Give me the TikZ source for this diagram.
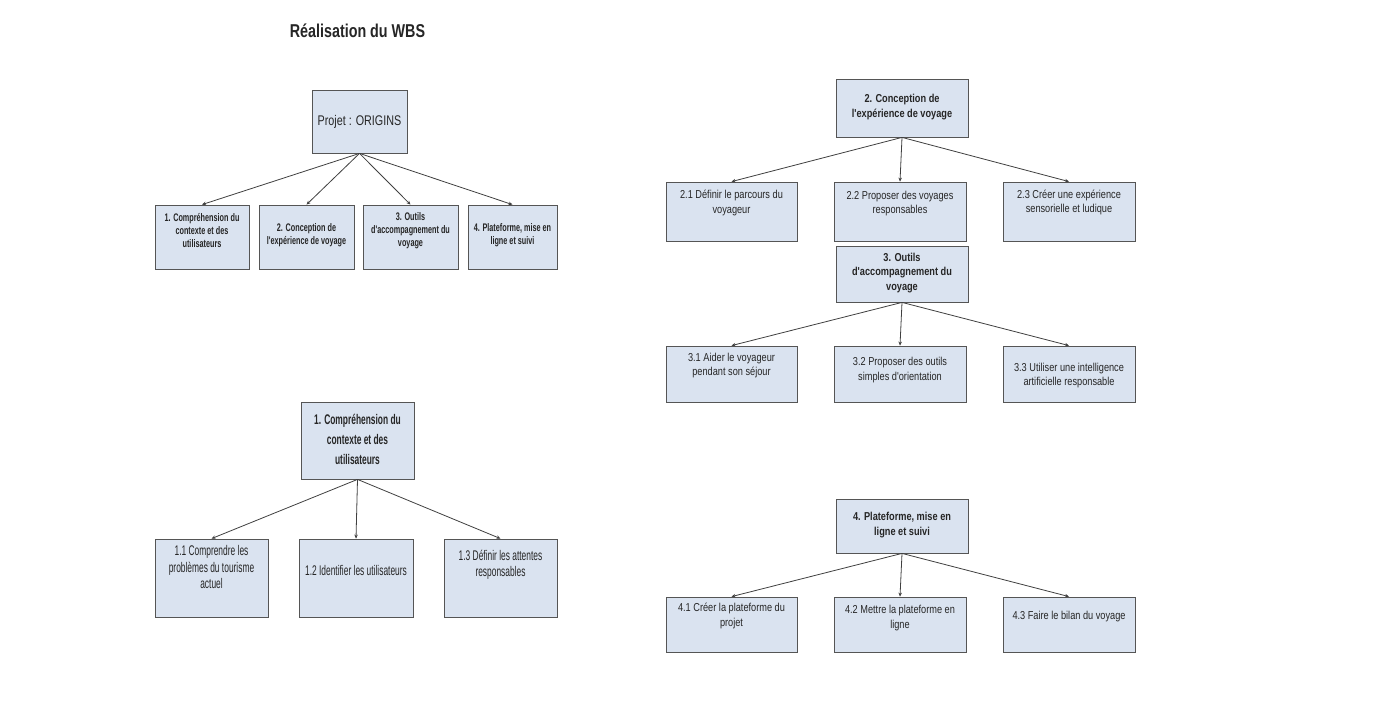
\documentclass[tikz,border=0pt]{standalone}
\usepackage{fontspec}
\setmainfont{Liberation Sans}
\newfontfamily\fR[FakeStretch=0.8]{Liberation Sans}
\newfontfamily\fT[FakeStretch=0.77]{Liberation Sans}
\newfontfamily\fS[FakeStretch=0.66]{Liberation Sans}
\newfontfamily\fB[FakeStretch=0.6]{Liberation Sans}
\usetikzlibrary{arrows.meta}
\definecolor{boxfill}{HTML}{DAE3F0}
\definecolor{boxline}{HTML}{555555}
\definecolor{linkc}{HTML}{404040}
\tikzset{
  box/.style={draw=boxline, fill=boxfill, line width=0.8pt, inner sep=0pt, rectangle},
  txt/.style={align=center, inner sep=0pt, text=black!85},
  link/.style={draw=linkc, line width=0.8pt, -{Stealth[length=4pt,width=3.5pt]}},
  rtxt/.style={txt, font={\fR\fontsize{11.5}{14.5}\selectfont}},
  rbold/.style={txt, font={\fR\bfseries\fontsize{11.5}{14.5}\selectfont}},
  stxt/.style={txt, font={\fS\bfseries\fontsize{11}{13}\selectfont}},
  btxt/.style={txt, font={\fB\fontsize{14}{16.5}\selectfont}},
  bbold/.style={txt, font={\fB\bfseries\fontsize{14}{20}\selectfont}},
}
\begin{document}
\begin{tikzpicture}[x=1pt,y=-1pt]
\useasboundingbox (0,0) rectangle (1386,712);
\fill[white] (0,0) rectangle (1386,712);

% title
\node[txt, font={\fT\bfseries\fontsize{18.6}{20}\selectfont}] (title) at (357.5,31) {Réalisation du WBS};

% ---------- top-left tree ----------
\node[box, minimum width=95, minimum height=63] (P) at (359.5,121.5) {};
\node[txt, font={\fT\fontsize{14}{16}\selectfont}] (tP) at (359.5,122) {Projet : ORIGINS};
\node[box, minimum width=94, minimum height=64] (c1) at (202,237) {};
\node[box, minimum width=95, minimum height=64] (c2) at (306.5,237) {};
\node[box, minimum width=95, minimum height=64] (c3) at (410.5,237) {};
\node[box, minimum width=89, minimum height=64] (c4) at (512.5,237) {};
\node[stxt] (tc1) at (202,231) {1. Compréhension du\\contexte et des\\utilisateurs};
\node[stxt] (tc2) at (306.5,235) {2. Conception de\\l'expérience de voyage};
\node[stxt] (tc3) at (410.5,231) {3. Outils\\d'accompagnement du\\voyage};
\node[stxt] (tc4) at (512.5,235) {4. Plateforme, mise en\\ligne et suivi};
\foreach \c in {c1,c2,c3,c4} \draw[link] (P.south) -- (\c.north);

% ---------- bottom-left tree ----------
\node[box, minimum width=113, minimum height=77] (R1) at (357.5,440.5) {};
\node[bbold] (tR1) at (357.5,439) {1. Compréhension du\\contexte et des\\utilisateurs};
\node[box, minimum width=113, minimum height=78] (s11) at (211.5,578) {};
\node[box, minimum width=114, minimum height=78] (s12) at (356,578) {};
\node[box, minimum width=113, minimum height=78] (s13) at (500.5,578) {};
\node[btxt] (t11) at (211.5,567) {1.1 Comprendre les\\problèmes du tourisme\\actuel};
\node[btxt] (t12) at (356,570) {1.2 Identifier les utilisateurs};
\node[btxt] (t13) at (500.5,565) {1.3 Définir les attentes\\responsables};
\foreach \c in {s11,s12,s13} \draw[link] (R1.south) -- (\c.north);

% ---------- right tree 2 ----------
\node[box, minimum width=132, minimum height=58] (R2) at (902,108) {};
\node[rbold] (tR2) at (902,107) {2. Conception de\\l'expérience de voyage};
\node[box, minimum width=131, minimum height=59] (s21) at (731.5,211.5) {};
\node[box, minimum width=132, minimum height=59] (s22) at (900,211.5) {};
\node[box, minimum width=132, minimum height=59] (s23) at (1069,211.5) {};
\node[rtxt] (t21) at (731.5,203) {2.1 Définir le parcours du\\voyageur};
\node[rtxt] (t22) at (900,203.5) {2.2 Proposer des voyages\\responsables};
\node[rtxt] (t23) at (1069,202.5) {2.3 Créer une expérience\\sensorielle et ludique};
\foreach \c in {s21,s22,s23} \draw[link] (R2.south) -- (\c.north);

% ---------- right tree 3 ----------
\node[box, minimum width=132, minimum height=56] (R3) at (902,274) {};
\node[rbold] (tR3) at (902,273) {3. Outils\\d'accompagnement du\\voyage};
\node[box, minimum width=131, minimum height=56] (s31) at (731.5,374) {};
\node[box, minimum width=132, minimum height=56] (s32) at (900,374) {};
\node[box, minimum width=132, minimum height=56] (s33) at (1069,374) {};
\node[rtxt] (t31) at (731.5,365.5) {3.1 Aider le voyageur\\pendant son séjour};
\node[rtxt] (t32) at (900,370) {3.2 Proposer des outils\\simples d'orientation};
\node[rtxt] (t33) at (1069,375.5) {3.3 Utiliser une intelligence\\artificielle responsable};
\foreach \c in {s31,s32,s33} \draw[link] (R3.south) -- (\c.north);

% ---------- right tree 4 ----------
\node[box, minimum width=132, minimum height=54] (R4) at (902,526) {};
\node[rbold] (tR4) at (902,525) {4. Plateforme, mise en\\ligne et suivi};
\node[box, minimum width=131, minimum height=55] (s41) at (731.5,624.5) {};
\node[box, minimum width=132, minimum height=55] (s42) at (900,624.5) {};
\node[box, minimum width=132, minimum height=55] (s43) at (1069,624.5) {};
\node[rtxt] (t41) at (731.5,616) {4.1 Créer la plateforme du\\projet};
\node[rtxt] (t42) at (900,618) {4.2 Mettre la plateforme en\\ligne};
\node[rtxt] (t43) at (1069,617) {4.3 Faire le bilan du voyage};
\foreach \c in {s41,s42,s43} \draw[link] (R4.south) -- (\c.north);
\end{tikzpicture}
\end{document}
